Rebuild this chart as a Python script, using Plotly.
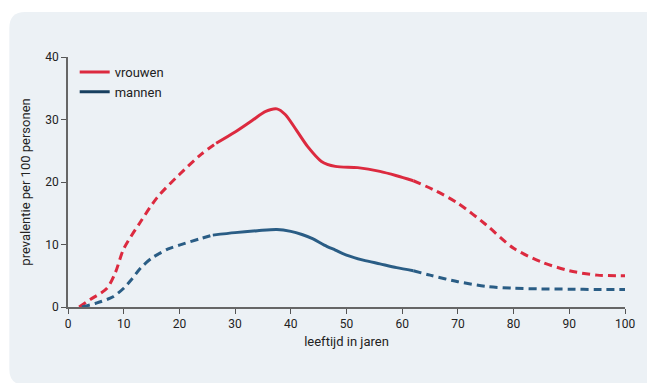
import plotly.graph_objects as go

# ---- data ----
vrouwen_x = [2, 4, 7, 8.5, 10, 13, 16, 20, 24, 26.6, 30, 33, 35.5, 37.5, 39, 41, 43, 45.5, 48, 52, 56, 59, 62, 66, 70, 75, 80, 85, 90, 95, 100]
vrouwen_y = [0, 1.2, 3, 5.5, 9.3, 13.6, 17.5, 21.2, 24.5, 26.2, 28, 29.8, 31.3, 31.7, 30.8, 28.3, 25.7, 23.3, 22.5, 22.3, 21.7, 21.0, 20.2, 18.6, 16.6, 13.2, 9.4, 7.2, 5.8, 5.1, 5.0]
mannen_x = [2.5, 5, 8, 10, 11.5, 13, 15, 18, 20, 24, 26, 30, 34, 37.5, 40, 42, 44, 46, 48, 50, 53, 56, 59, 62, 65, 70, 75, 80, 85, 90, 95, 100]
mannen_y = [0, 0.6, 1.6, 3, 4.5, 6.2, 7.8, 9.3, 9.9, 11, 11.5, 11.9, 12.2, 12.4, 12.1, 11.6, 10.9, 9.9, 9.1, 8.3, 7.5, 6.9, 6.3, 5.8, 5.1, 4.05, 3.3, 3.0, 2.9, 2.85, 2.8, 2.8]
solid_start = {"vrouwen": 26.6, "mannen": 26}
solid_end = 62
x_ticks = [0, 10, 20, 30, 40, 50, 60, 70, 80, 90, 100]
y_ticks = [0, 10, 20, 30, 40]

RED = "#dc2a3f"
BLUE = "#2a5d85"
NAVY = "#173f5f"
FONT = "Roboto, sans-serif"

fig = go.Figure()


def add_series(xs, ys, color, s0):
    i0 = xs.index(s0)
    i1 = xs.index(solid_end)
    parts = [(0, i0 + 1, "8px,5px"), (i0, i1 + 1, "solid"), (i1, len(xs), "8px,5px")]
    for a, b, d in parts:
        fig.add_trace(go.Scatter(
            x=xs[a:b], y=ys[a:b], mode="lines",
            line=dict(color=color, width=3, dash=d, shape="spline", smoothing=0.8),
            showlegend=False, hoverinfo="skip"))


add_series(vrouwen_x, vrouwen_y, RED, solid_start["vrouwen"])
add_series(mannen_x, mannen_y, BLUE, solid_start["mannen"])

# legend entries
fig.add_trace(go.Scatter(x=[None], y=[None], mode="lines", name="vrouwen",
                         line=dict(color=RED, width=3)))
fig.add_trace(go.Scatter(x=[None], y=[None], mode="lines", name="mannen",
                         line=dict(color=NAVY, width=3)))

# rounded background panel (paper coords: x 0->68px, 1->628px; y 0->307px, 1->57px)
def px(xp):
    return (xp - 68) / 560


def py(yp):
    return (307 - yp) / 250


L, T, R, B, r = 9, 12, 690, 385, 16
path = (f"M {px(L + r)},{py(T)} L {px(R - r)},{py(T)} Q {px(R)},{py(T)} {px(R)},{py(T + r)} "
        f"L {px(R)},{py(B - r)} Q {px(R)},{py(B)} {px(R - r)},{py(B)} "
        f"L {px(L + r)},{py(B)} Q {px(L)},{py(B)} {px(L)},{py(B - r)} "
        f"L {px(L)},{py(T + r)} Q {px(L)},{py(T)} {px(L + r)},{py(T)} Z")
fig.add_shape(type="path", path=path, xref="paper", yref="paper",
              fillcolor="#ecf1f5", line=dict(width=0), layer="below")

fig.update_layout(
    width=647, height=383,
    margin=dict(l=68, r=18, t=57, b=76),
    paper_bgcolor="white", plot_bgcolor="rgba(0,0,0,0)",
    font=dict(family=FONT, size=13, color="#222"),
    showlegend=True,
    legend=dict(x=0.012, y=1.0, xanchor="left", yanchor="top",
                bgcolor="rgba(0,0,0,0)", font=dict(size=13, color="#222"),
                itemwidth=30, tracegroupgap=0),
    xaxis=dict(range=[0, 100], tickvals=x_ticks, ticks="outside", ticklen=5,
               tickcolor="#555", showline=True, linecolor="#666", linewidth=2,
               showgrid=False, zeroline=False,
               title=dict(text="leeftijd in jaren", standoff=6, font=dict(size=13)),
               tickfont=dict(size=12, color="#222")),
    yaxis=dict(range=[0, 40], tickvals=y_ticks, ticks="outside", ticklen=5,
               tickcolor="#555", showline=True, linecolor="#666", linewidth=1.5,
               showgrid=False, zeroline=False,
               title=dict(text="prevalentie per 100 personen", standoff=12, font=dict(size=13)),
               tickfont=dict(size=12, color="#222")),
)

fig.write_html("out.html", config={"displayModeBar": False},
               post_script="document.body.style.margin='0';")
